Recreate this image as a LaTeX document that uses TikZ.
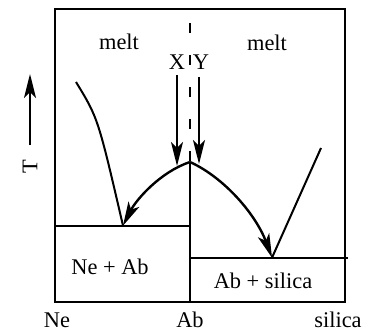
\documentclass[tikz,border=0pt]{standalone}
\usepackage{fontspec}
\setmainfont{Liberation Serif}
\usetikzlibrary{arrows.meta}
\begin{document}
\begin{tikzpicture}[x=0.5pt,y=-0.5pt,font=\fontsize{11.2}{13}\selectfont]
\useasboundingbox (0,0) rectangle (367,335);
\tikzset{phase/.style={line width=0.9pt},
  flow/.style={line width=1.2pt,-{Stealth[length=12pt,width=6pt,inset=3pt]}}}
% frame and composition points
\coordinate (ne) at (55,301.7);
\coordinate (si) at (345,301.7);
\coordinate (top) at (190,162);
\coordinate (eutl) at (123,225.7);
\coordinate (eutr) at (272,257.7);
\draw[phase] (55,9) rectangle (345,301.7);
\draw[phase] (top) -- (190,301.7);
\draw[phase] (55,225.7) -- (190,225.7);
\draw[phase] (190,257.7) -- (348,257.7);
% liquidus curves
\draw[line width=1pt] (76,82) .. controls (98,118) .. (eutl);
\draw[line width=1pt] (321,148) -- (eutr);
\draw[line width=1pt,dash pattern=on 5pt off 11pt] (190,23) -- (top);
% labels
\node (meltl) at (119,42) {melt};
\node (meltr) at (267,43) {melt};
\node (x) at (177,62) {X};
\node (y) at (201,62) {Y};
\node (neab) at (110,267) {Ne + Ab};
\node (absi) at (263,281) {Ab + silica};
\node (lne) at (57,320) {Ne};
\node (lab) at (190,320) {Ab};
\node (lsi) at (338,320) {silica};
\node (t) [rotate=90] at (30,167) {T};
% cooling paths
\coordinate (xs) at (177,75);
\coordinate (xe) at (177,166);
\coordinate (ys) at (199,77);
\coordinate (ye) at (199,164);
\coordinate (tt) at (30,74);
\draw[flow] (xs) -- (xe);
\draw[flow] (ys) -- (ye);
\draw[flow] (top) .. controls (160,172) and (136,200) .. (eutl);
\draw[flow] (top) .. controls (225,178) and (256,215) .. (eutr);
\draw[flow,shorten <=4pt] (t.east) -- (tt);
\end{tikzpicture}
\end{document}
